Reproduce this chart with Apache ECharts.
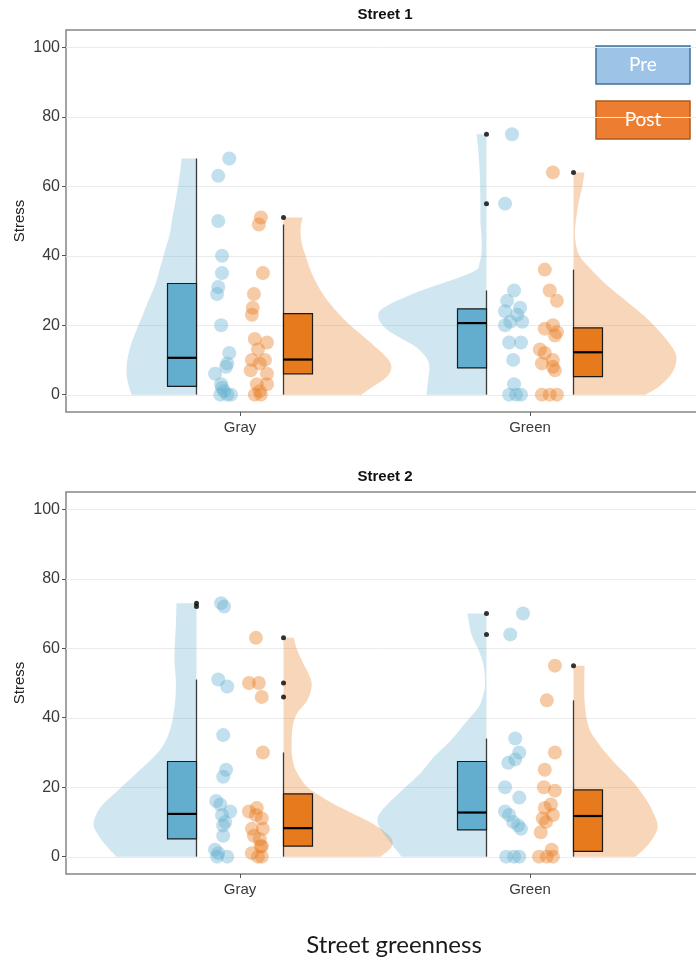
<!DOCTYPE html>
<html>
<head>
<meta charset="utf-8">
<script src="https://cdn.jsdelivr.net/npm/echarts@6/dist/echarts.min.js"></script>
<style>
  html, body { margin: 0; padding: 0; background: #ffffff; }
  #chart { width: 696px; height: 960px; }
</style>
</head>
<body>
<div id="chart"></div>
<script>
// ---------- data ----------
const categories = ['Gray', 'Green'];
const phases = ['Pre', 'Post'];
const panelTitles = ['Street 1', 'Street 2'];
const yTicks = [0, 20, 40, 60, 80, 100];

// Stress scores per participant; jitter is the horizontal spread of each dot (% of category spacing)
const s1GrayPre        = [68, 63, 50, 40, 35, 31, 29, 20, 12, 9, 8, 6, 3, 2, 1, 0, 0, 0];
const s1GrayPreJitter  = [2.8, -1.0, -1.0, 0.3, 0.3, -1.0, -1.4, 0, 2.8, 2.1, 1.7, -2.1, 0, 0.3, 1.0, 2.1, 3.4, -0.3];
const s1GrayPost       = [51, 49, 35, 29, 25, 23, 16, 15, 13, 10, 10, 9, 7, 6, 3, 3, 1, 0, 0];
const s1GrayPostJitter = [0.7, 0, 1.4, -1.7, -2.1, -2.4, -1.4, 2.8, -0.3, 2.1, -2.4, 0.3, -2.8, 2.8, -0.7, 2.8, 0.3, 0.7, -1.4];
const s1GreenPre        = [75, 55, 30, 27, 25, 24, 23, 21, 21, 20, 15, 15, 10, 3, 0, 0, 0];
const s1GreenPreJitter  = [0.3, -2.1, 1.0, -1.4, 3.1, -2.1, 2.1, -0.3, 3.8, -2.1, -0.7, 3.4, 0.7, 1.0, -0.7, 1.7, 3.4];
const s1GreenPost       = [64, 36, 30, 27, 20, 19, 18, 17, 13, 12, 10, 9, 8, 7, 0, 0, 0];
const s1GreenPostJitter = [1.4, -1.4, 0.3, 2.8, 1.4, -1.4, 2.8, 2.1, -3.1, -1.4, 1.4, -2.4, 1.4, 2.1, -2.4, 0.3, 2.8];

const s2GrayPre        = [73, 72, 51, 49, 35, 25, 23, 16, 15, 13, 12, 10, 9, 6, 2, 1, 0, 0];
const s2GrayPreJitter  = [0, 1.0, -1.0, 2.1, 0.7, 1.7, 0.7, -1.7, -0.3, 3.1, 0.3, 1.4, 0.7, 0.7, -2.1, -1.0, 2.1, -1.4];
const s2GrayPost       = [63, 50, 50, 46, 30, 14, 13, 12, 11, 8, 8, 6, 5, 3, 3, 1, 0, 0];
const s2GrayPostJitter = [-1.0, -3.4, 0, 1.0, 1.4, -0.7, -3.4, -1.0, 1.0, 1.4, -2.4, -1.7, 0.3, 1.0, 0.7, -2.4, 1.0, -0.3];
const s2GreenPre        = [70, 64, 34, 30, 28, 27, 20, 17, 13, 12, 10, 9, 8, 0, 0, 0];
const s2GreenPreJitter  = [4.1, -0.3, 1.4, 2.8, 1.4, -1.0, -2.1, 2.8, -2.1, -0.7, 0.7, 2.4, 3.4, -1.7, 1.0, 2.8];
const s2GreenPost       = [55, 45, 30, 25, 20, 19, 15, 14, 12, 11, 10, 7, 2, 0, 0, 0];
const s2GreenPostJitter = [2.1, -0.7, 2.1, -1.4, -1.7, 2.1, 0.7, -1.4, 1.4, -2.1, -1.0, -2.8, 1.0, -3.4, -0.7, 1.4];

// Box statistics: [lower whisker, Q1, median, Q3, upper whisker]
const s1GrayPreBox   = [0, 2.4, 10.6, 32, 68];
const s1GrayPostBox  = [0, 6, 10.1, 23.3, 49];
const s1GreenPreBox  = [0, 7.7, 20.6, 24.7, 30];
const s1GreenPostBox = [0, 5.2, 12.2, 19.2, 36];
const s2GrayPreBox   = [0, 5.1, 12.3, 27.4, 51];
const s2GrayPostBox  = [0, 3, 8.2, 18.1, 30];
const s2GreenPreBox  = [0, 7.7, 12.7, 27.4, 34];
const s2GreenPostBox = [0, 1.5, 11.7, 19.2, 45];

// Outliers beyond the whiskers
const s1GrayPreOut   = [];
const s1GrayPostOut  = [51];
const s1GreenPreOut  = [55, 75];
const s1GreenPostOut = [64];
const s2GrayPreOut   = [72, 73];
const s2GrayPostOut  = [46, 50, 63];
const s2GreenPreOut  = [64, 70];
const s2GreenPostOut = [55];

// Half-violin density profiles: [stress, half width in % of category spacing]
const s1GrayPreViolin = [[0,22.4],[4,23.8],[8,24.1],[13,23.1],[18,21.0],[22,19.0],[27,16.6],[32,14.1],[37,12.4],[42,10.7],[46,9.3],[51,8.3],[56,7.2],[61,6.2],[65,5.5],[68,5.2]];
const s1GrayPostViolin = [[0,26.9],[2,30.3],[5,35.5],[8,37.2],[11,35.2],[16,28.6],[21,21.7],[26,16.2],[30,12.8],[35,9.7],[40,7.6],[44,6.2],[48,5.9],[51,6.6]];
const s1GreenPreViolin = [[0,20.7],[5,20.0],[8,19.7],[10,20.3],[12,22.1],[14,24.8],[16,29.0],[18,33.1],[20,35.9],[22,37.2],[24,36.9],[26,33.4],[28,28.3],[30,22.4],[32,15.5],[34,8.6],[36,3.4],[38,2.4],[41,1.7],[45,1.7],[50,2.1],[55,2.1],[60,2.2],[65,2.4],[70,2.8],[75,3.4]];
const s1GreenPostViolin = [[0,24.8],[2.2,29.3],[6,33.8],[10,35.5],[13,34.5],[17.6,30.3],[22.4,24.7],[27.2,17.8],[32,10.9],[36.8,5.2],[40.6,1.7],[46.4,0.5],[54,1.5],[59.8,3.0],[64,3.8]];
const s2GrayPreViolin = [[0,27.6],[2.7,30.7],[5.6,33.4],[9.4,35.5],[14.2,33.1],[19,27.2],[24.8,19.7],[30.5,12.8],[36,9.3],[43,7.6],[49.8,7.1],[57.4,7.6],[67,7.1],[73,6.9]];
const s2GrayPostViolin = [[0,33.4],[2.7,37.2],[5.6,36.9],[9.4,31.0],[13,22.4],[16,15.5],[20,8.3],[24,4.8],[27,3.4],[31,2.8],[37,3.1],[41,4.5],[45,8.2],[49,9.7],[52,9.0],[56,6.6],[60,4.5],[63,3.6]];
const s2GreenPreViolin = [[0,29.3],[3.7,32.8],[7.5,36.2],[10.5,37.6],[13.5,35.9],[19,29.3],[23.8,23.1],[28.6,18.3],[33.4,12.4],[38.2,7.6],[43,2.8],[47,1.0],[50,0.5],[55,1.0],[59.6,2.8],[64,5.2],[70,6.6]];
const s2GreenPostViolin = [[0,21.4],[3.6,25.9],[8.4,29.0],[13.2,27.2],[18,23.8],[22.9,19.0],[27.7,13.4],[32.6,8.6],[37.4,5.2],[45,3.8],[55,3.8]];

// ---------- layout & style ----------
const GRID_LEFT = 66, GRID_WIDTH = 638, GRID_HEIGHT = 382;
const GRID_TOPS = [30, 492];
const VIOLIN_OFFSET = 0.15;   // flat side of the half violin, from the category centre
const BOX_WIDTH = 0.1;
const POINT_OFFSET = 0.065;
const BOX_FILL = ['#63aecf', '#e87a1e'];
const VIOLIN_FILL = ['rgba(99,174,207,0.3)', 'rgba(232,122,30,0.31)'];
const POINT_FILL = ['rgba(99,174,207,0.5)', 'rgba(232,122,30,0.5)'];
const FONT = '"Liberation Sans", Arial, sans-serif';

const panels = [
  [
    { cat: 0, phase: 0, values: s1GrayPre,  jitter: s1GrayPreJitter,  box: s1GrayPreBox,  out: s1GrayPreOut,  violin: s1GrayPreViolin },
    { cat: 0, phase: 1, values: s1GrayPost, jitter: s1GrayPostJitter, box: s1GrayPostBox, out: s1GrayPostOut, violin: s1GrayPostViolin },
    { cat: 1, phase: 0, values: s1GreenPre,  jitter: s1GreenPreJitter,  box: s1GreenPreBox,  out: s1GreenPreOut,  violin: s1GreenPreViolin },
    { cat: 1, phase: 1, values: s1GreenPost, jitter: s1GreenPostJitter, box: s1GreenPostBox, out: s1GreenPostOut, violin: s1GreenPostViolin }
  ],
  [
    { cat: 0, phase: 0, values: s2GrayPre,  jitter: s2GrayPreJitter,  box: s2GrayPreBox,  out: s2GrayPreOut,  violin: s2GrayPreViolin },
    { cat: 0, phase: 1, values: s2GrayPost, jitter: s2GrayPostJitter, box: s2GrayPostBox, out: s2GrayPostOut, violin: s2GrayPostViolin },
    { cat: 1, phase: 0, values: s2GreenPre,  jitter: s2GreenPreJitter,  box: s2GreenPreBox,  out: s2GreenPreOut,  violin: s2GreenPreViolin },
    { cat: 1, phase: 1, values: s2GreenPost, jitter: s2GreenPostJitter, box: s2GreenPostBox, out: s2GreenPostOut, violin: s2GreenPostViolin }
  ]
];

const sideOf = g => (g.phase === 0 ? -1 : 1);
const flatXOf = g => g.cat + 1 + sideOf(g) * VIOLIN_OFFSET;

// Catmull-Rom spline through the profile knots so the violin outline is smooth
function smoothProfile(p) {
  const out = [];
  const n = p.length;
  for (let i = 0; i < n - 1; i++) {
    const p0 = p[Math.max(i - 1, 0)], p1 = p[i], p2 = p[i + 1], p3 = p[Math.min(i + 2, n - 1)];
    for (let s = 0; s < 8; s++) {
      const t = s / 8, t2 = t * t, t3 = t2 * t;
      const f = k => 0.5 * (2 * p1[k] + (-p0[k] + p2[k]) * t +
        (2 * p0[k] - 5 * p1[k] + 4 * p2[k] - p3[k]) * t2 +
        (-p0[k] + 3 * p1[k] - 3 * p2[k] + p3[k]) * t3);
      out.push([f(0), Math.max(0, f(1))]);
    }
  }
  out.push(p[n - 1]);
  return out;
}

function gridLineSeries(pi) {
  return {
    type: 'custom', xAxisIndex: pi, yAxisIndex: pi, silent: true, z: 1,
    data: yTicks.map(v => [1, v]),
    renderItem(params, api) {
      const cs = params.coordSys;
      const y = Math.round(api.coord([1, api.value(1)])[1]) + 0.5;
      return { type: 'line', shape: { x1: cs.x, y1: y, x2: cs.x + cs.width, y2: y },
               style: { stroke: '#ebebeb', lineWidth: 1 } };
    }
  };
}

function violinSeries(pi) {
  const list = panels[pi];
  return {
    type: 'custom', xAxisIndex: pi, yAxisIndex: pi, silent: true, z: 2,
    data: list.map((g, i) => [g.cat + 1, g.box[2], i]),
    renderItem(params, api) {
      const g = list[params.dataIndex];
      const side = sideOf(g), fx = flatXOf(g);
      const prof = smoothProfile(g.violin);
      const pts = [api.coord([fx, prof[0][0]])];
      prof.forEach(([v, w]) => pts.push(api.coord([fx + side * w / 100, v])));
      pts.push(api.coord([fx, prof[prof.length - 1][0]]));
      return { type: 'polygon', shape: { points: pts }, style: { fill: VIOLIN_FILL[g.phase] } };
    }
  };
}

function pointSeries(pi, phase) {
  const data = [];
  panels[pi].filter(g => g.phase === phase).forEach(g => {
    g.values.forEach((v, k) => data.push([g.cat + 1 + sideOf(g) * POINT_OFFSET + g.jitter[k] / 100, v]));
  });
  return {
    type: 'scatter', xAxisIndex: pi, yAxisIndex: pi, silent: true, z: 3,
    symbol: 'circle', symbolSize: 14,
    itemStyle: { color: POINT_FILL[phase] },
    data
  };
}

function boxSeries(pi) {
  const list = panels[pi];
  return {
    type: 'custom', xAxisIndex: pi, yAxisIndex: pi, silent: true, z: 4,
    data: list.map((g, i) => [g.cat + 1, g.box[2], i]),
    renderItem(params, api) {
      const g = list[params.dataIndex];
      const fx = flatXOf(g), ox = fx + sideOf(g) * BOX_WIDTH;
      const xl = Math.min(fx, ox), xr = Math.max(fx, ox);
      const [lo, q1, med, q3, hi] = g.box;
      const a = api.coord([xl, q3]), b = api.coord([xr, q1]);
      const wl = api.coord([fx, lo]), wh = api.coord([fx, hi]);
      const ml = api.coord([xl, med]), mr = api.coord([xr, med]);
      return {
        type: 'group',
        children: [
          { type: 'line', shape: { x1: wl[0], y1: wl[1], x2: wh[0], y2: wh[1] },
            style: { stroke: '#3a3a3a', lineWidth: 1.3 } },
          { type: 'rect', shape: { x: a[0], y: a[1], width: b[0] - a[0], height: b[1] - a[1] },
            style: { fill: BOX_FILL[g.phase], stroke: '#1b1b1b', lineWidth: 1.2 } },
          { type: 'line', shape: { x1: ml[0], y1: ml[1], x2: mr[0], y2: mr[1] },
            style: { stroke: '#000000', lineWidth: 2.2 } }
        ]
      };
    }
  };
}

function outlierSeries(pi) {
  const data = [];
  panels[pi].forEach(g => g.out.forEach(v => data.push([flatXOf(g), v])));
  return {
    type: 'scatter', xAxisIndex: pi, yAxisIndex: pi, silent: true, z: 5,
    symbol: 'circle', symbolSize: 5, itemStyle: { color: '#000000' }, data
  };
}

const grids = [], xAxes = [], yAxes = [], series = [], graphics = [];
[0, 1].forEach(pi => {
  grids.push({ left: GRID_LEFT, top: GRID_TOPS[pi], width: GRID_WIDTH, height: GRID_HEIGHT,
               outerBoundsMode: 'none', containLabel: false,
               show: true, backgroundColor: '#ffffff', borderColor: '#858585', borderWidth: 1.5 });
  xAxes.push({
    gridIndex: pi, type: 'value', min: 0.4, max: 2.6,
    axisLine: { show: false, onZero: false }, splitLine: { show: false },
    axisTick: { show: true, customValues: [1, 2], length: 4, lineStyle: { color: '#555555' } },
    axisLabel: { customValues: [1, 2], formatter: v => categories[Math.round(v) - 1],
                 fontSize: 15, color: '#3a3a3a', margin: 8, fontFamily: FONT }
  });
  yAxes.push({
    gridIndex: pi, type: 'value', min: -5, max: 105,
    axisLine: { show: false, onZero: false }, splitLine: { show: false },
    axisTick: { show: true, customValues: yTicks, length: 4, lineStyle: { color: '#555555' } },
    axisLabel: { customValues: yTicks, fontSize: 16, color: '#3a3a3a', margin: 6, fontFamily: FONT }
  });
  series.push(gridLineSeries(pi), violinSeries(pi), pointSeries(pi, 0), pointSeries(pi, 1),
              boxSeries(pi), outlierSeries(pi));
  graphics.push({
    type: 'text', x: GRID_LEFT + GRID_WIDTH / 2, y: GRID_TOPS[pi] - 15,
    style: { text: panelTitles[pi], font: 'bold 15px ' + FONT, fill: '#111111',
             align: 'center', verticalAlign: 'middle' }
  });
  // y-axis title
  graphics.push({
    type: 'text', x: 20, y: GRID_TOPS[pi] + GRID_HEIGHT / 2, rotation: Math.PI / 2,
    style: { text: 'Stress', font: '15px ' + FONT, fill: '#222222',
             align: 'center', verticalAlign: 'middle' }
  });
});

// Pre / Post key boxes
const KEY_FILL = ['#9dc3e6', '#ed7d31'];
const KEY_STROKE = ['#41719c', '#ae5a21'];
const KEY_TOPS = [46, 101];
phases.forEach((p, i) => {
  graphics.push({
    type: 'group', x: 596, y: KEY_TOPS[i],
    children: [
      { type: 'rect', shape: { x: 0, y: 0, width: 94, height: 38 },
        style: { fill: KEY_FILL[i], stroke: KEY_STROKE[i], lineWidth: 1.5 } },
      { type: 'text', x: 47, y: 19,
        style: { text: p, font: '19px Lato, "Open Sans", sans-serif', fill: '#ffffff',
                 align: 'center', verticalAlign: 'middle' } }
    ]
  });
});

graphics.push({
  type: 'text', x: 394, y: 945,
  style: { text: 'Street greenness', font: '24px Lato, "Open Sans", sans-serif', fill: '#1a1a1a',
           align: 'center', verticalAlign: 'middle' }
});

const chart = echarts.init(document.getElementById('chart'), null, { renderer: 'canvas' });
chart.setOption({
  animation: false,
  backgroundColor: '#ffffff',
  grid: grids,
  xAxis: xAxes,
  yAxis: yAxes,
  series,
  graphic: graphics
});
</script>
</body>
</html>
